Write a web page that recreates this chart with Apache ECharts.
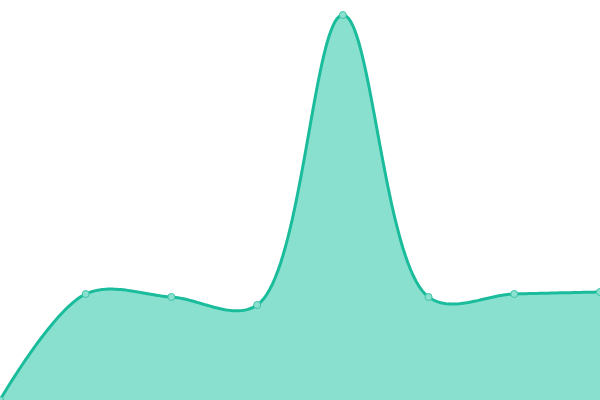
<!DOCTYPE html>
<html>
<head>
<meta charset="utf-8">
<style>
  html, body { margin: 0; padding: 0; background: #fff; }
  #chart { width: 600px; height: 400px; }
</style>
<script src="https://cdn.jsdelivr.net/npm/echarts@6/dist/echarts.min.js"></script>
</head>
<body>
<div id="chart"></div>
<script>
// x categories (no labels shown in the picture)
var categories = ["1", "2", "3", "4", "5", "6", "7", "8"];
// values, axis 0..40
var values = [0, 10.6, 10.3, 9.5, 38.5, 10.3, 10.6, 10.8];

var myChart = echarts.init(document.getElementById("chart"));

// centripetal catmull-rom through the points, sampled in pixel space
function curvePoints(pts) {
    var alpha = 0.5;
    var out = [pts[0]];
    var n = pts.length;
    function d(a, b) { return Math.pow(Math.hypot(b[0] - a[0], b[1] - a[1]), alpha); }
    for (var i = 0; i < n - 1; i++) {
        var p1 = pts[i], p2 = pts[i + 1];
        var c1 = p1.slice(), c2 = p2.slice();
        var l12 = d(p1, p2);
        if (i > 0) {
            var p0 = pts[i - 1], l01 = d(p0, p1);
            var a = 2 * l01 * l01 + 3 * l01 * l12 + l12 * l12, m1 = 3 * l01 * (l01 + l12);
            c1 = [0, 1].map(function (k) { return (p1[k] * a - p0[k] * l12 * l12 + p2[k] * l01 * l01) / m1; });
        }
        if (i < n - 2) {
            var p3 = pts[i + 2], l23 = d(p2, p3);
            var b = 2 * l23 * l23 + 3 * l23 * l12 + l12 * l12, m2 = 3 * l23 * (l23 + l12);
            c2 = [0, 1].map(function (k) { return (p2[k] * b + p1[k] * l23 * l23 - p3[k] * l12 * l12) / m2; });
        }
        for (var s = 1; s <= 40; s++) {
            var t = s / 40, u = 1 - t;
            out.push([
                u * u * u * p1[0] + 3 * u * u * t * c1[0] + 3 * u * t * t * c2[0] + t * t * t * p2[0],
                u * u * u * p1[1] + 3 * u * u * t * c1[1] + 3 * u * t * t * c2[1] + t * t * t * p2[1]
            ]);
        }
    }
    return out;
}

var option = {
    animation: false,
    grid: { left: 0, right: 0, top: 0, bottom: 0 },
    xAxis: {
        type: "category",
        data: categories,
        boundaryGap: false,
        show: false
    },
    yAxis: {
        type: "value",
        min: 0,
        max: 40,
        show: false
    },
    series: [
        {
            type: "custom",
            data: values,
            z: 1,
            renderItem: function (params, api) {
                if (params.dataIndex !== 0) return null;
                var pts = values.map(function (v, i) { return api.coord([i, v]); });
                var line = curvePoints(pts);
                var base = api.coord([0, 0])[1];
                var area = line.concat([[pts[pts.length - 1][0], base], [pts[0][0], base]]);
                return {
                    type: "group",
                    children: [
                        { type: "polygon", shape: { points: area }, style: { fill: "#89e0cf" } },
                        { type: "polyline", shape: { points: line }, style: { stroke: "#1abc9c", lineWidth: 3, fill: null } }
                    ]
                };
            }
        },
        {
            type: "line",
            data: values,
            z: 3,
            symbol: "circle",
            symbolSize: 7,
            itemStyle: {
                color: "#8ce0cf",
                borderColor: "#3cc4a7",
                borderWidth: 1
            },
            lineStyle: { width: 0, opacity: 0 }
        }
    ]
};

myChart.setOption(option);
</script>
</body>
</html>
